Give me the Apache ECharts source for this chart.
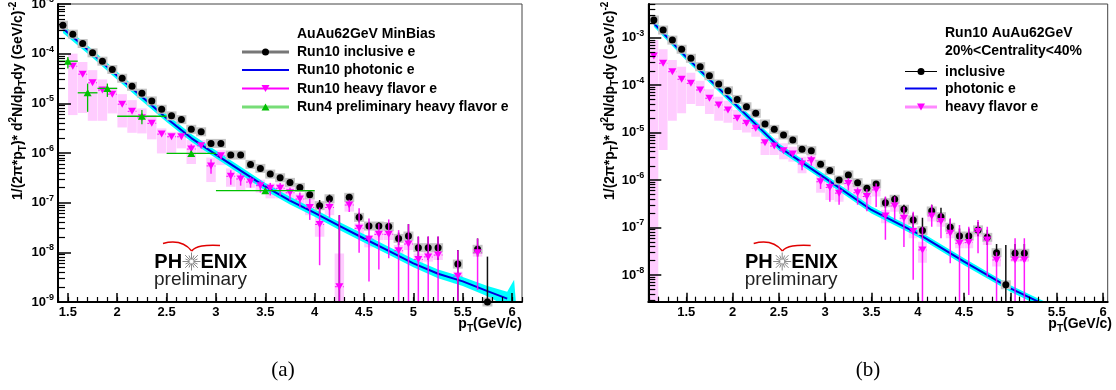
<!DOCTYPE html>
<html><head><meta charset="utf-8">
<script src="https://cdn.jsdelivr.net/npm/echarts@6/dist/echarts.min.js"></script>
<style>html,body{margin:0;padding:0;background:#fff}#c{width:1116px;height:390px}</style>
</head><body><div id="c"></div>
<script>
// ================= DATA : panel (a)  AuAu62GeV MinBias =================
const ptA = [1.45,1.55,1.65,1.75,1.85,1.95,2.05,2.15,2.25,2.35,2.45,2.55,2.65,2.75,2.85,2.95,3.05,3.15,3.25,3.35,3.45,3.55,3.65,3.75,3.85,3.95,4.05,4.15,4.25,4.35,4.45,4.55,4.65,4.75,4.85,4.95,5.05,5.15,5.25,5.35,5.45,5.55,5.65,5.75];
const incA = [3.74e-4,2.47e-4,1.6e-4,1.04e-4,7.06e-5,4.8e-5,3.2e-5,2.2e-5,1.6e-5,1.12e-5,7.6e-6,5.6e-6,4.7e-6,3.0e-6,2.67e-6,1.56e-6,1.56e-6,9.1e-7,9.1e-7,5.9e-7,4.9e-7,3.76e-7,3.17e-7,2.56e-7,2.03e-7,1.44e-7,8.7e-8,1.2e-7,null,1.28e-7,5.06e-8,3.38e-8,3.38e-8,3.3e-8,1.91e-8,2.13e-8,1.24e-8,1.24e-8,1.24e-8,null,5.8e-9,null,1.15e-8,1.0e-9];
const incA_hi = [null,null,null,null,null,null,null,null,null,null,null,null,null,null,null,null,null,null,null,null,null,null,null,null,null,null,1.13e-7,1.45e-7,5.6e-8,1.5e-7,6.3e-8,4.0e-8,4.0e-8,3.9e-8,2.5e-8,3.7e-8,2.06e-8,2.06e-8,2.06e-8,null,1.11e-8,null,1.9e-8,8.2e-9];
const incA_lo = [null,null,null,null,null,null,null,null,null,null,null,null,null,null,null,null,null,null,null,null,null,null,null,null,null,null,6.0e-8,1.0e-7,1e-10,1.1e-7,4.0e-8,2.9e-8,2.9e-8,2.8e-8,1.4e-8,1.5e-8,7.0e-9,7.0e-9,7.0e-9,null,1e-10,null,8.2e-9,1e-10];
const hfA = [null,5.6e-5,3.87e-5,2.59e-5,1.85e-5,1.53e-5,9.6e-6,6.9e-6,5.1e-6,3.95e-6,2.4e-6,2.12e-6,2.12e-6,1.2e-6,1.4e-6,5.5e-7,8.8e-7,3.4e-7,3.0e-7,2.6e-7,2.2e-7,1.94e-7,1.94e-7,1.58e-7,1.18e-7,8.0e-8,3.65e-8,8.0e-8,2.03e-9,8.96e-8,3.04e-8,1.83e-8,2.3e-8,2.3e-8,1.08e-8,1.47e-8,7.2e-9,8.1e-9,8.8e-9,null,3.3e-9,null,9.8e-9,null];
const hfA_hi = [null,null,null,null,null,null,null,null,null,null,null,null,null,1.5e-6,null,7.5e-7,1.0e-6,4.5e-7,3.9e-7,3.3e-7,2.8e-7,2.5e-7,2.5e-7,2.0e-7,1.6e-7,1.2e-7,8.0e-8,1.1e-7,5.6e-8,1.15e-7,7.7e-8,4.8e-8,3.8e-8,4.6e-8,2.8e-8,3.7e-8,2.1e-8,2.1e-8,2.1e-8,null,1.1e-8,null,1.9e-8,null];
const hfA_lo = [null,null,null,null,null,null,null,null,null,null,null,null,null,9.0e-7,null,3.8e-7,7.5e-7,2.3e-7,2.2e-7,2.0e-7,1.6e-7,1.4e-7,1.4e-7,1.1e-7,8.0e-8,4.5e-8,5.5e-9,5.0e-8,1e-10,6.5e-8,9.8e-9,2.6e-9,4.5e-9,7.6e-9,1e-10,1e-10,1e-10,1e-10,1e-10,null,1e-10,null,1.74e-9,null];
const hfA_sysLo = [null,5.8e-6,6.4e-6,4.45e-6,4.45e-6,6.26e-6,3.27e-6,2.55e-6,2.48e-6,1.88e-6,9.8e-7,9.8e-7,1.24e-6,6.0e-7,9.5e-7,2.6e-7,5.7e-7,2.09e-7,1.8e-7,2.0e-7,1.6e-7,1.22e-7,1.22e-7,1.04e-7,8.95e-8,5.6e-8,2.06e-8,5.6e-8,1e-10,6.6e-8,2.23e-8,1.26e-8,1.77e-8,1.77e-8,8.2e-9,1.11e-8,6.0e-9,6.5e-9,7.0e-9,null,2.38e-9,null,8.2e-9,null];
const hfA_sysHi = [null,1.0e-4,6.8e-5,4.66e-5,3.03e-5,2.09e-5,1.53e-5,1.16e-5,7.9e-6,5.8e-6,3.13e-6,2.67e-6,2.67e-6,1.82e-6,1.82e-6,8.1e-7,1.14e-6,4.9e-7,3.94e-7,3.2e-7,2.9e-7,2.44e-7,2.44e-7,2.09e-7,1.54e-7,1.22e-7,5.2e-8,1.04e-7,9.5e-9,1.42e-7,3.83e-8,2.23e-8,2.81e-8,2.81e-8,1.4e-8,1.77e-8,9.5e-9,1.03e-8,1.11e-8,null,4.07e-9,null,1.2e-8,null];
const photA_x = [1.45,1.75,2.0,2.25,2.5,2.75,3.0,3.25,3.5,3.75,4.0,4.25,4.5,4.75,5.0,5.25,5.5,5.75,5.95];
const photA = [3.2e-4,1.0e-4,3.6e-5,1.35e-5,5.0e-6,2.0e-6,9.3e-7,4.4e-7,2.1e-7,1.1e-7,6.2e-8,3.4e-8,1.9e-8,1.07e-8,6.0e-9,3.7e-9,2.6e-9,1.66e-9,1.17e-9];
const bandA_x = [1.45,1.75,2.0,2.25,2.5,2.75,3.0,3.25,3.5,3.75,4.0,4.25,4.5,4.75,5.0,5.25,5.5,5.75,5.95,6.02,6.05];
const bandA_lo = [2.6e-4,8.3e-5,3.0e-5,1.12e-5,4.2e-6,1.68e-6,7.8e-7,3.7e-7,1.75e-7,9.2e-8,5.2e-8,2.8e-8,1.58e-8,8.9e-9,5.0e-9,3.0e-9,2.1e-9,1.3e-9,8e-10,5e-10,5e-10];
const bandA_hi = [3.8e-4,1.2e-4,4.3e-5,1.62e-5,6.0e-6,2.4e-6,1.12e-6,5.3e-7,2.5e-7,1.32e-7,7.4e-8,4.1e-8,2.3e-8,1.3e-8,7.3e-9,4.5e-9,3.2e-9,2.1e-9,1.6e-9,2.8e-9,5e-10];
const run4_x = [1.5,1.7,1.9,2.25,2.75,3.5];
const run4_xlo = [1.4,1.6,1.8,2.0,2.5,3.0];
const run4_xhi = [1.6,1.8,2.0,2.5,3.0,4.0];
const run4 = [7.06e-5,1.63e-5,2.0e-5,5.5e-6,9.8e-7,1.74e-7];
const run4_lo = [5.04e-5,6.75e-6,1.35e-5,3.8e-6,8.5e-7,1.6e-7];
const run4_hi = [8.6e-5,2.5e-5,2.5e-5,7.3e-6,1.1e-6,1.9e-7];

// ================= DATA : panel (b)  Run10 AuAu62GeV 20-40% =================
const ptB = [1.15,1.25,1.35,1.45,1.55,1.65,1.75,1.85,1.95,2.05,2.15,2.25,2.35,2.45,2.55,2.65,2.75,2.85,2.95,3.05,3.15,3.25,3.35,3.45,3.55,3.65,3.75,3.85,3.95,4.05,4.15,4.25,4.35,4.45,4.55,4.65,4.75,4.85,4.95,5.05,5.15];
const incB = [2.36e-3,1.45e-3,8.9e-4,5.7e-4,3.68e-4,2.45e-4,1.58e-4,1.06e-4,7.6e-5,5.0e-5,3.5e-5,2.55e-5,1.52e-5,1.17e-5,8.9e-6,7.0e-6,4.45e-6,4.16e-6,2.15e-6,1.58e-6,1.0e-6,1.28e-6,8.8e-7,6.7e-7,8.3e-7,3.33e-7,3.94e-7,2.42e-7,1.44e-7,8.6e-8,2.23e-7,1.69e-7,1.01e-7,6.6e-8,6.6e-8,8.9e-8,6.2e-8,2.95e-8,6.2e-9,2.86e-8,2.86e-8];
const incB_hi = [null,null,null,null,null,null,null,null,null,null,null,null,null,null,null,null,null,null,null,null,null,null,null,null,null,4.3e-7,4.8e-7,3.0e-7,2.0e-7,1.6e-7,3.0e-7,2.6e-7,1.5e-7,9.5e-8,9.5e-8,1.3e-7,9.0e-8,4.5e-8,4.3e-8,4.5e-8,4.5e-8];
const incB_lo = [null,null,null,null,null,null,null,null,null,null,null,null,null,null,null,null,null,null,null,null,null,null,null,null,null,2.6e-7,3.2e-7,1.9e-7,1.0e-7,6.0e-8,1.7e-7,1.3e-7,7.0e-8,4.5e-8,4.5e-8,6.5e-8,4.3e-8,1.9e-8,1e-10,1.9e-8,1.9e-8];
const hfB = [4.1e-4,2.89e-4,1.92e-4,1.33e-4,1.09e-4,7.9e-5,5.3e-5,3.8e-5,3.0e-5,2.0e-5,1.57e-5,1.23e-5,6.1e-6,5.2e-6,4.16e-6,3.55e-6,2.18e-6,2.56e-6,9.2e-7,7.0e-7,5.3e-7,8.5e-7,5.4e-7,4.5e-7,6.2e-7,1.75e-7,2.84e-7,1.57e-7,8.2e-8,3.37e-8,1.75e-7,1.33e-7,7.6e-8,4.66e-8,4.8e-8,8.2e-8,5.46e-8,2.07e-8,null,2.07e-8,2.07e-8];
const hfB_hi = [null,null,null,null,null,null,null,null,null,null,null,null,null,null,null,null,2.9e-6,3.2e-6,1.25e-6,1.0e-6,8.0e-7,1.1e-6,7.0e-7,6.5e-7,8.5e-7,4.5e-7,4.5e-7,2.75e-7,2.16e-7,1.04e-7,3.0e-7,2.0e-7,1.57e-7,1.13e-7,1.04e-7,1.44e-7,1.04e-7,3.0e-8,null,5.9e-8,5.9e-8];
const hfB_lo = [null,null,null,null,null,null,null,null,null,null,null,null,null,null,null,null,1.6e-6,2.0e-6,6.5e-7,3.5e-7,3.0e-7,6.0e-7,3.0e-7,2.2e-7,2.7e-7,5.5e-8,1.44e-7,3.9e-8,7.9e-9,1e-10,1.04e-7,5.9e-8,1.76e-8,1e-10,3.8e-9,2.86e-8,9.2e-9,1e-10,null,1e-10,1e-10];
const hfB_sysLo = [1e-10,4.3e-6,1.78e-5,2.55e-5,4.0e-5,3.64e-5,2.47e-5,1.78e-5,1.62e-5,1.13e-5,1.0e-5,8.2e-6,3.37e-6,3.37e-6,2.74e-6,2.44e-6,1.39e-6,1.77e-6,5.4e-7,3.8e-7,3.5e-7,5.5e-7,3.8e-7,3.0e-7,4.5e-7,1.23e-7,2.16e-7,1.13e-7,5.9e-8,1.8e-8,1.33e-7,1.04e-7,5.9e-8,3.65e-8,3.65e-8,6.4e-8,4.3e-8,1.5e-8,null,1.9e-8,1.9e-8];
const hfB_sysHi = [8.9e-4,5.7e-4,3.39e-4,2.45e-4,1.83e-4,1.24e-4,8.2e-5,5.7e-5,4.7e-5,3.0e-5,2.47e-5,1.85e-5,9.7e-6,7.6e-6,5.96e-6,5.05e-6,3.1e-6,3.37e-6,1.39e-6,1.0e-6,7.0e-7,1.1e-6,7.5e-7,6.0e-7,8.0e-7,2.34e-7,3.5e-7,2.0e-7,1.04e-7,5.0e-8,2.34e-7,1.84e-7,9.6e-8,5.9e-8,5.9e-8,1.04e-7,7.0e-8,2.64e-8,null,3.1e-8,3.1e-8];
const photB_x = [1.15,1.5,2.0,2.5,3.0,3.5,4.0,4.5,5.0,5.3,5.5];
const photB = [2.0e-3,3.9e-4,4.5e-5,5.0e-6,1.1e-6,2.34e-7,7.4e-8,1.9e-8,5.2e-9,2.75e-9,1.78e-9];
const bandB_lo = [1.7e-3,3.3e-4,3.8e-5,4.2e-6,9.3e-7,1.98e-7,6.3e-8,1.6e-8,4.4e-9,2.3e-9,1.5e-9];
const bandB_hi = [2.35e-3,4.6e-4,5.3e-5,5.9e-6,1.3e-6,2.76e-7,8.7e-8,2.25e-8,6.1e-9,3.2e-9,2.1e-9];

// ================= AXES =================
const xRangeA = [1.4, 6.1], xRangeB = [1.09, 6.05];
const yRangeA = [1e-9, 1e-3], yRangeB = [2.73e-9, 5.13e-3];
const xMajorLabels = [1.5,2,2.5,3,3.5,4,4.5,5,5.5,6];
const yDecadesA = [-9,-8,-7,-6,-5,-4,-3];
const yDecadesB = [-8,-7,-6,-5,-4,-3];
const minorMult = [2,3,4,5,6,7,8,9];

// ================= helpers =================
const FONT = '"Liberation Sans", Arial, Helvetica, sans-serif';
const lg = Math.log10;
function pts(xs, ys){ const d=[]; xs.forEach((x,i)=>{ if(ys[i]!=null) d.push([x, lg(ys[i])]); }); return d; }
function rng(xs, lo, hi){ const d=[]; xs.forEach((x,i)=>{ if(lo[i]!=null && hi[i]!=null) d.push([x, lg(lo[i]), lg(hi[i])]); }); return d; }
function minorX(r){ const t=[]; for(let v=Math.ceil(r[0]*10-1e-6); v<=Math.floor(r[1]*10+1e-6); v++) t.push(+(v/10).toFixed(1)); return t; }
function minorY(r){ const t=[]; const a=lg(r[0]), b=lg(r[1]); for(let n=Math.floor(a); n<Math.ceil(b); n++) minorMult.forEach(k=>{const v=n+lg(k); if(v>=a && v<=b) t.push(v);}); return t; }

function xAxes(gi, r){
  return [
    {type:'value', gridIndex:gi, min:r[0], max:r[1], position:'bottom', z:20,
      axisLine:{show:true,onZero:false,lineStyle:{color:'#000',width:2}},
      axisTick:{show:true,inside:true,length:9,customValues:xMajorLabels,lineStyle:{color:'#000',width:1.5}},
      axisLabel:{show:true,customValues:xMajorLabels,formatter:v=>String(v),color:'#000',fontFamily:FONT,fontWeight:'bold',fontSize:13,margin:4},
      splitLine:{show:false}},
    {type:'value', gridIndex:gi, min:r[0], max:r[1], position:'bottom', z:20,
      axisLine:{show:false},
      axisTick:{show:true,inside:true,length:5,customValues:minorX(r),lineStyle:{color:'#000',width:1.2}},
      axisLabel:{show:false}, splitLine:{show:false}}
  ];
}
const supRich = {
  b:{fontSize:13,fontWeight:'bold',fontFamily:FONT,color:'#000',lineHeight:18},
  s:{fontSize:9,fontWeight:'bold',fontFamily:FONT,color:'#000',verticalAlign:'top',lineHeight:9}
};
function yAxes(gi, r, decades){
  return [
    {type:'value', gridIndex:gi, min:lg(r[0]), max:lg(r[1]), position:'left', z:20,
      axisLine:{show:true,onZero:false,lineStyle:{color:'#000',width:2}},
      axisTick:{show:true,inside:true,length:13,customValues:decades,lineStyle:{color:'#000',width:1.5}},
      axisLabel:{show:true,customValues:decades,formatter:v=>'{b|10}{s|'+Math.round(v)+'}',rich:supRich,margin:4},
      splitLine:{show:false}},
    {type:'value', gridIndex:gi, min:lg(r[0]), max:lg(r[1]), position:'left', z:20,
      axisLine:{show:false},
      axisTick:{show:true,inside:true,length:7,customValues:minorY(r),lineStyle:{color:'#000',width:1.2}},
      axisLabel:{show:false}, splitLine:{show:false}}
  ];
}

function vErr(gi, data, color, w, z, opacity){
  return {type:'custom', xAxisIndex:2*gi, yAxisIndex:2*gi, z, clip:true, silent:true, data,
    renderItem(p, api){ const a=api.coord([api.value(0),api.value(1)]), b=api.coord([api.value(0),api.value(2)]);
      return {type:'line', shape:{x1:a[0],y1:a[1],x2:b[0],y2:b[1]}, style:{stroke:color,lineWidth:w,opacity:opacity==null?1:opacity}}; }};
}
function boxes(gi, data, hw, fill, z){
  return {type:'custom', xAxisIndex:2*gi, yAxisIndex:2*gi, z, clip:true, silent:true, data,
    renderItem(p, api){ const a=api.coord([api.value(0)-hw, api.value(2)]), b=api.coord([api.value(0)+hw, api.value(1)]);
      return {type:'rect', shape:{x:a[0],y:a[1],width:b[0]-a[0],height:b[1]-a[1]}, style:{fill}}; }};
}
function band(gi, xs, lo, hi, fill, z){
  const data = xs.map((x,i)=>[x, lg(lo[i]), lg(hi[i])]);
  return {type:'custom', xAxisIndex:2*gi, yAxisIndex:2*gi, z, clip:true, silent:true, data,
    renderItem(p, api){ if(p.dataIndex!==0) return null; const up=[], dn=[];
      data.forEach(d=>{ up.push(api.coord([d[0],d[2]])); dn.push(api.coord([d[0],d[1]])); });
      return {type:'polygon', shape:{points: up.concat(dn.reverse())}, style:{fill}}; }};
}
function hDash(gi, data, hw, color, z){
  return {type:'custom', xAxisIndex:2*gi, yAxisIndex:2*gi, z, clip:true, silent:true, data,
    renderItem(p, api){ const a=api.coord([api.value(0)-hw, api.value(1)]), b=api.coord([api.value(0)+hw, api.value(1)]);
      return {type:'line', shape:{x1:a[0],y1:a[1],x2:b[0],y2:b[1]}, style:{stroke:color,lineWidth:1,lineDash:[2,2]}}; }};
}
function hBin(gi, data, color, z){
  return {type:'custom', xAxisIndex:2*gi, yAxisIndex:2*gi, z, clip:true, silent:true, data,
    renderItem(p, api){ const a=api.coord([api.value(0), api.value(2)]), b=api.coord([api.value(1), api.value(2)]);
      return {type:'line', shape:{x1:a[0],y1:a[1],x2:b[0],y2:b[1]}, style:{stroke:color,lineWidth:1.3}}; }};
}
function scat(gi, name, data, symbol, size, color, z, rot){
  return {type:'scatter', name, xAxisIndex:2*gi, yAxisIndex:2*gi, z, silent:true, data, symbol, symbolSize:size,
    symbolRotate:rot||0, itemStyle:{color, opacity:1}, clip:true};
}
function panelSeries(gi, pt, inc, incLo, incHi, hf, hfLo, hfHi, sLo, sHi, phx, ph, bx, blo, bhi){
  return [
    boxes(gi, rng(pt, sLo, sHi), 0.048, '#ffccff', 1),
    band(gi, bx, blo, bhi, '#00ffff', 2),
    {type:'line', name:'photonic e', xAxisIndex:2*gi, yAxisIndex:2*gi, z:3, silent:true, data:pts(phx, ph),
      symbol:'none', lineStyle:{color:'#0000dd', width:2}, clip:true},
    scat(gi, 'inclusive sys', pts(pt, inc), 'rect', [10,9], '#c4c4c4', 4),
    vErr(gi, rng(pt, incLo, incHi), '#111', 1.5, 5),
    scat(gi, 'inclusive e', pts(pt, inc), 'circle', 7, '#000', 6),
    vErr(gi, rng(pt, hfLo, hfHi), '#ff00ff', 1.5, 7, 0.9),
    hDash(gi, pts(pt, hf), 0.045, '#ff00ff', 7),
    scat(gi, 'heavy flavor e', pts(pt, hf), 'triangle', [8,7], '#ff00ff', 8, 180)
  ];
}

const series = [].concat(
  panelSeries(0, ptA, incA, incA_lo, incA_hi, hfA, hfA_lo, hfA_hi, hfA_sysLo, hfA_sysHi, photA_x, photA, bandA_x, bandA_lo, bandA_hi),
  [
    hBin(0, run4_x.map((x,i)=>[run4_xlo[i], run4_xhi[i], lg(run4[i])]), '#00c000', 9),
    vErr(0, rng(run4_x, run4_lo, run4_hi), '#00c000', 1.3, 9),
    scat(0, 'Run4 preliminary heavy flavor e', pts(run4_x, run4), 'triangle', [8,7], '#00c000', 10)
  ],
  panelSeries(1, ptB, incB, incB_lo, incB_hi, hfB, hfB_lo, hfB_hi, hfB_sysLo, hfB_sysHi, photB_x, photB, photB_x, bandB_lo, bandB_hi)
);

// ================= decorations (legend, logo, titles) =================
const T14 = {fontFamily:FONT, fontWeight:'bold', fontSize:14, fill:'#000'};
function txt(x, y, text, extra){ return {type:'text', x, y, z:50, style:Object.assign({text, align:'left', verticalAlign:'middle'}, T14, extra||{})}; }
function lline(x1, x2, y, color, w){ return {type:'line', z:50, shape:{x1, y1:y, x2, y2:y}, style:{stroke:color, lineWidth:w}}; }
function dot(cx, cy){ return {type:'circle', z:51, shape:{cx, cy, r:3.5}, style:{fill:'#000'}}; }
function triDown(cx, cy, c){ return {type:'polygon', z:51, shape:{points:[[cx-4,cy-3.5],[cx+4,cy-3.5],[cx,cy+3.5]]}, style:{fill:c}}; }
function triUp(cx, cy, c){ return {type:'polygon', z:51, shape:{points:[[cx-4,cy+3.5],[cx+4,cy+3.5],[cx,cy-3.5]]}, style:{fill:c}}; }

function logo(dx){
  const els = [];
  els.push({type:'bezierCurve', z:50, shape:{x1:163+dx,y1:243.5,cpx1:178+dx,cpy1:239.5,cpx2:186+dx,cpy2:244,x2:191.7+dx,y2:251}, style:{stroke:'#e00000',lineWidth:1.5,fill:null}});
  els.push({type:'bezierCurve', z:50, shape:{x1:191.7+dx,y1:251,cpx1:196+dx,cpy1:245.5,cpx2:205+dx,cpy2:245,x2:220+dx,y2:245.5}, style:{stroke:'#e00000',lineWidth:1.5,fill:null}});
  els.push({type:'text', z:50, x:154.3+dx, y:262, style:{text:'PH', fontFamily:FONT, fontWeight:'bold', fontSize:20, fill:'#000', align:'left', verticalAlign:'middle'}});
  els.push({type:'text', z:50, x:200.5+dx, y:262, style:{text:'ENIX', fontFamily:FONT, fontWeight:'bold', fontSize:20, fill:'#000', align:'left', verticalAlign:'middle'}});
  for (let k=0;k<16;k++){ const a=k*Math.PI/8; const r1=2, r2=(k%2?6.5:9);
    els.push({type:'line', z:50, shape:{x1:191.5+dx+r1*Math.cos(a), y1:261.5+r1*Math.sin(a), x2:191.5+dx+r2*Math.cos(a), y2:261.5+r2*Math.sin(a)}, style:{stroke:'#888', lineWidth:1}}); }
  els.push({type:'text', z:50, x:154+dx, y:280, style:{text:'preliminary', fontFamily:FONT, fontSize:19, fill:'#222', align:'left', verticalAlign:'middle'}});
  return els;
}
const titleRich = {
  sub:{fontSize:10,fontWeight:'bold',fontFamily:FONT,fill:'#000',verticalAlign:'bottom',lineHeight:10},
  sup:{fontSize:10,fontWeight:'bold',fontFamily:FONT,fill:'#000',verticalAlign:'top',lineHeight:10}
};
function yTitle(x){
  return {type:'text', z:50, x, y:200, rotation:Math.PI/2,
    style:{text:'1/(2π*p{sub|T})* d{sup|2}N/dp{sub|T}dy (GeV/c){sup|-2}', rich:titleRich, fontFamily:FONT, fontWeight:'bold', fontSize:14, lineHeight:20, fill:'#000', align:'left', verticalAlign:'middle'}};
}
function xTitle(x){
  return {type:'text', z:50, x, y:324,
    style:{text:'p{sub|T}(GeV/c)', rich:titleRich, fontFamily:FONT, fontWeight:'bold', fontSize:14, lineHeight:20, fill:'#000', align:'right', verticalAlign:'middle'}};
}

const graphic = [].concat(
  [
    txt(297, 34, 'AuAu62GeV MinBias'),
    lline(242, 289, 52, '#777', 3), dot(265.5, 52), txt(297, 52.5, 'Run10 inclusive e'),
    lline(242, 289, 70, '#0000ee', 2), txt(297, 70.5, 'Run10 photonic e'),
    lline(242, 289, 88.5, '#ff00ff', 2), triDown(265.5, 88.5, '#ff00ff'), txt(297, 89, 'Run10 heavy flavor e'),
    lline(242, 289, 107, '#77dd77', 3), triUp(265.5, 107, '#00c000'), txt(297, 107.5, 'Run4 preliminary heavy flavor e'),

    txt(945, 33.5, 'Run10 AuAu62GeV'),
    txt(945, 51, '20%<Centrality<40%'),
    lline(905, 937, 71.5, '#000', 1), dot(921, 71.5), txt(945, 72, 'inclusive'),
    lline(905, 937, 88.5, '#0000ee', 2), txt(945, 89, 'photonic e'),
    lline(905, 937, 107, '#ff88ff', 3), triDown(921, 107, '#ff00ff'), txt(945, 107.5, 'heavy flavor e'),

    yTitle(18), yTitle(610),
    xTitle(522), xTitle(1112),
    {type:'text', z:50, x:283, y:370, style:{text:'(a)', fontFamily:'"Liberation Serif", "DejaVu Serif", serif', fontSize:21, fill:'#000', align:'center', verticalAlign:'middle'}},
    {type:'text', z:50, x:868, y:370, style:{text:'(b)', fontFamily:'"Liberation Serif", "DejaVu Serif", serif', fontSize:21, fill:'#000', align:'center', verticalAlign:'middle'}}
  ],
  logo(0), logo(590.7)
);

const chart = echarts.init(document.getElementById('c'), null, {renderer:'canvas'});
chart.setOption({
  animation:false,
  backgroundColor:'#fff',
  grid:[
    {left:58, top:4, width:464, height:298, show:true, borderColor:'#444', borderWidth:1, backgroundColor:'transparent', containLabel:false, outerBoundsMode:'none'},
    {left:648.3, top:4, width:459.4, height:297.7, show:true, borderColor:'#444', borderWidth:1, backgroundColor:'transparent', containLabel:false, outerBoundsMode:'none'}
  ],
  xAxis: [].concat(xAxes(0, xRangeA), xAxes(1, xRangeB)),
  yAxis: [].concat(yAxes(0, yRangeA, yDecadesA), yAxes(1, yRangeB, yDecadesB)),
  series,
  graphic
});
</script></body></html>
